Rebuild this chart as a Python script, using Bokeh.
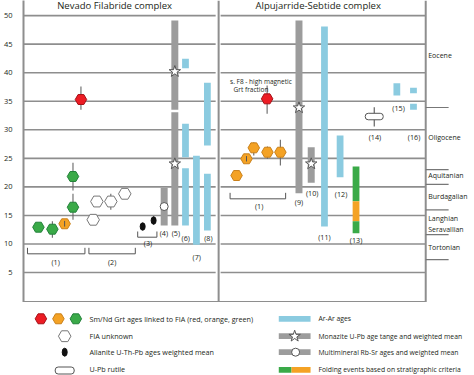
from bokeh.plotting import figure
from bokeh.models import Range1d, FixedTicker, Label
from bokeh.layouts import column
from bokeh.embed import file_html
from bokeh.resources import INLINE
from bokeh.core.properties import value

FONT = "Open Sans"
TXT = "#231f20"
GRID = "#8e8e8e"
GREEN, ORANGE, RED = "#3aaa48", "#f4a224", "#ec1c24"
BLUE, GREY = "#8bcbe0", "#9c9c9c"

# ---------------- data ----------------
# Sm/Nd garnet ages
grt_x = [36, 50, 62.3, 70.7, 70.7, 78.7, 235, 245, 252.3, 266, 279, 265.7]
grt_age = [12.94, 12.59, 13.54, 16.44, 21.82, 35.3, 21.99, 24.92, 26.84, 26.07, 26.07, 35.42]
grt_lo = [12.94, 11.08, 13.05, 14.24, 19.37, 33.5, 21.99, 24.45, 25.49, 24.92, 23.74, 32.8]
grt_hi = [12.94, 13.99, 14.05, 18.79, 24.22, 37.58, 21.99, 25.4, 27.82, 27.07, 28.24, 37.75]
grt_col = ["green", "green", "orange", "green", "green", "red",
           "orange", "orange", "orange", "orange", "orange", "red"]
grt_inner = [False, False, True, False, False, False, False, True, False, False, False, False]

# FIA unknown garnets
fia_x = [91, 94.7, 108.7, 122.7]
fia_age = [14.24, 17.44, 17.44, 18.79]
fia_lo = [14.24, 17.44, 15.99, 18.79]
fia_hi = [14.24, 17.44, 18.79, 18.79]

# Allanite U-Th-Pb
aln_x = [140.7, 151.7]
aln_age = [13.06, 14.11]
aln_lo = [13.06, 13.4]
aln_hi = [13.06, 14.8]

# Grey bars (monazite U-Pb / Rb-Sr) ranges
grey_x = [162.3, 173, 173, 297.7, 310]
grey_bot = [13.24, 13.24, 33.5, 18.89, 20.71]
grey_top = [19.84, 33.05, 49.13, 49.13, 26.95]
star_x = [173, 173, 297.7, 310]
star_age = [40.2, 24.04, 33.85, 24.04]
rbsr_x = [162.3]
rbsr_age = [16.56]

# Ar-Ar ages
ar_x = [183.7, 183.7, 183.7, 194.7, 205.7, 205.7, 323.3, 339, 396, 412.7, 412.7]
ar_bot = [40.78, 25.2, 13.24, 9.86, 27.25, 12.36, 13.06, 21.7, 36.0, 36.4, 33.5]
ar_top = [42.43, 31.05, 23.27, 25.44, 38.22, 22.29, 48.08, 29.0, 38.15, 37.35, 34.55]

# Folding events (13)
fold_x = [355, 355, 355]
fold_bot = [17.49, 13.99, 11.89]
fold_top = [23.57, 17.49, 13.99]
fold_col = ["green", "orange", "green"]

# U-Pb rutile (14)
rut_x = [373.3]
rut_age = [32.32]
rut_lo = [30.57]
rut_hi = [33.95]

# sample number labels
num_text = ["(1)", "(2)", "(3)", "(4)", "(5)", "(6)", "(7)", "(8)", "(1)", "(9)", "(10)",
            "(11)", "(12)", "(13)", "(14)", "(15)", "(16)"]
num_x = [53.3, 110, 146, 162, 174, 184, 195, 206.7, 257.7, 297.7, 311, 323.3, 340, 355, 374, 397.7, 413.3]
num_age = [6.81, 6.81, 10.14, 11.84, 11.84, 11.01, 7.81, 11.01, 16.74, 17.32, 18.89,
           11.31, 18.67, 10.73, 28.7, 33.78, 28.7]

# group brackets
br_x0 = [25, 86.7, 135.7, 228.5]
br_x1 = [82.7, 133.3, 155, 284.3]
br_age = [8.28, 8.28, 11.19, 17.91]
br_tick = [1.05, 1.05, 1.0, 1.05]

# time scale
grid_ages = [5, 10, 15, 20, 25, 30, 35, 40, 45, 50]
epoch_bounds = [33.9, 23.03, 20.44, 15.97, 11.63, 7.25]
epoch_names = ["Eocene", "Oligocene", "Aquitanian", "Burdagalian", "Langhian", "Seravallian", "Tortonian"]
epoch_label_age = [43.0, 28.73, 21.99, 18.32, 14.46, 12.54, 9.39]

panel_titles = ["Nevado Filabride complex", "Alpujarride-Sebtide complex"]
panel_title_x = [112.5, 317]

legend_left = ["Sm/Nd Grt ages linked to FIA (red, orange, green)", "FIA unknown",
               "Allanite U-Th-Pb ages weighted mean", "U-Pb rutile"]
legend_right = ["Ar-Ar ages", "Monazite U-Pb age tange and weighted mean",
                "Multimineral Rb-Sr ages and weighted mean",
                "Folding events based on stratigraphic criteria"]

cmap = {"green": GREEN, "orange": ORANGE, "red": RED}
edge = {"green": "#23813a", "orange": "#c9801a", "red": "#a51218"}

# ---------------- main chart ----------------
Y_TOP, Y_BOT = 52.64, -0.245
p = figure(width=474, height=302, output_backend="svg", toolbar_location=None,
           x_range=Range1d(21, 474), y_range=Range1d(Y_BOT, Y_TOP),
           min_border_left=21, min_border_right=0, min_border_top=0, min_border_bottom=0,
           x_axis_location=None)
p.outline_line_color = None
p.xgrid.visible = False
p.ygrid.visible = False
p.background_fill_color = "white"
p.border_fill_color = "white"
ax = p.yaxis[0]
ax.ticker = FixedTicker(ticks=grid_ages)
ax.major_tick_line_color = None
ax.minor_tick_line_color = None
ax.axis_line_color = GRID
ax.axis_line_width = 2
ax.major_label_text_font = FONT
ax.major_label_text_font_size = "7.5px"
ax.major_label_text_color = TXT
ax.major_label_standoff = 5

# grid lines per panel
gx0 = [21] * len(grid_ages) + [219] * len(grid_ages)
gx1 = [214] * len(grid_ages) + [425] * len(grid_ages)
gy = grid_ages + grid_ages
p.segment(x0=gx0, x1=gx1, y0=gy, y1=gy, line_color=GRID, line_width=1.6)
# bottom line
p.segment(x0=[21], x1=[425], y0=[-0.15], y1=[-0.15], line_color=GRID, line_width=2)
# vertical panel borders
p.segment(x0=[217, 425], x1=[217, 425], y0=[-0.15, -0.15], y1=[Y_TOP, Y_TOP], line_color=GRID, line_width=2)
# epoch boundaries
p.segment(x0=[425] * len(epoch_bounds), x1=[448] * len(epoch_bounds), y0=epoch_bounds, y1=epoch_bounds,
          line_color="#777777", line_width=1.2)
p.text(x=[427.5] * len(epoch_names), y=epoch_label_age, text=epoch_names, text_font=value(FONT),
       text_font_size="7px", text_color=TXT, text_baseline="middle", text_align="left")

# panel titles
p.text(x=panel_title_x, y=[51.78, 51.78], text=panel_titles, text_font=value(FONT),
       text_font_size="9.5px", text_color=TXT, text_baseline="middle", text_align="center")
p.add_layout(Label(x=6, y=51.85, text="Ma", text_font=FONT, text_font_size="8px", text_color=TXT,
                   text_align="center", text_baseline="middle"))

# brackets
bxs, bys = [], []
for x0, x1, a, t in zip(br_x0, br_x1, br_age, br_tick):
    bxs.append([x0, x0, x1, x1])
    bys.append([a + t, a, a, a + t])
p.multi_line(xs=bxs, ys=bys, line_color="#555555", line_width=1)

# bars
p.vbar(x=grey_x, bottom=grey_bot, top=grey_top, width=7, fill_color=GREY, line_color=None)
p.vbar(x=ar_x, bottom=ar_bot, top=ar_top, width=6.8, fill_color=BLUE, line_color=None)
p.vbar(x=fold_x, bottom=fold_bot, top=fold_top, width=6.8,
       fill_color=[cmap[c] for c in fold_col], line_color=None)

# error bars
p.segment(x0=grt_x, x1=grt_x, y0=grt_lo, y1=grt_hi, line_color="#666666", line_width=1.1)
p.segment(x0=fia_x, x1=fia_x, y0=fia_lo, y1=fia_hi, line_color="#666666", line_width=1.1)
p.segment(x0=aln_x, x1=aln_x, y0=aln_lo, y1=aln_hi, line_color="#444444", line_width=1.1)
p.segment(x0=rut_x, x1=rut_x, y0=rut_lo, y1=rut_hi, line_color="#555555", line_width=1.1)

# markers
p.scatter(x=grt_x, y=grt_age, marker="hex", size=11.5,
          fill_color=[cmap[c] for c in grt_col], line_color=[edge[c] for c in grt_col], line_width=1)
ix = [i for i, f in enumerate(grt_inner) if f]
p.segment(x0=[grt_x[i] for i in ix], x1=[grt_x[i] for i in ix], y0=[grt_lo[i] for i in ix],
          y1=[grt_hi[i] for i in ix], line_color="#555555", line_width=1)
p.scatter(x=fia_x, y=fia_age, marker="hex", size=12.5, fill_color="white", line_color="#777777", line_width=1)
p.ellipse(x=aln_x, y=aln_age, width=5, height=7.5, width_units="screen", height_units="screen",
          fill_color="#111111", line_color="#111111")
p.scatter(x=star_x, y=star_age, marker="star", size=12, fill_color="white", line_color="#555555", line_width=1)
p.scatter(x=rbsr_x, y=rbsr_age, marker="circle", size=8, fill_color="white", line_color="#555555", line_width=1)
p.rect(x=rut_x, y=rut_age, width=18, height=6.5, width_units="screen", height_units="screen",
       border_radius=3, fill_color="white", line_color="#555555", line_width=1)

# numbers
p.text(x=num_x, y=num_age, text=num_text, text_font=value(FONT), text_font_size="7.2px",
       text_color=TXT, text_baseline="middle", text_align="center")
# annotation
p.text(x=[228.5, 232], y=[38.45, 37.0], text=["s. F8 - high magnetic", "Grt fraction"],
       text_font=value(FONT), text_font_size="6.5px", text_color=TXT, text_baseline="middle",
       text_align="left")

# ---------------- legend ----------------
lg = figure(width=474, height=73, output_backend="svg", toolbar_location=None,
            x_range=Range1d(0, 474), y_range=Range1d(375, 302),
            min_border=0, x_axis_location=None, y_axis_location=None)
lg.outline_line_color = None
lg.xgrid.visible = False
lg.ygrid.visible = False
rows = [318.3, 335.7, 351.7, 369.3]
lg.scatter(x=[18.3, 36.7, 55], y=[rows[0]] * 3, marker="hex", size=11.5,
           fill_color=[RED, ORANGE, GREEN], line_color=[edge["red"], edge["orange"], edge["green"]])
lg.scatter(x=[43.3], y=[rows[1]], marker="hex", size=12.5, fill_color="white", line_color="#777777")
lg.ellipse(x=[43.3], y=[rows[2]], width=5, height=8, width_units="screen", height_units="screen",
           fill_color="#111111", line_color="#111111")
lg.rect(x=[43.3], y=[rows[3] + 0.7], width=19, height=7, width_units="screen", height_units="screen",
        border_radius=3, fill_color="white", line_color="#555555")
lg.text(x=[69.3] * 4, y=[rows[0], rows[1], rows[2], rows[3] - 1.3], text=legend_left, text_font=value(FONT),
        text_font_size="7.2px", text_color=TXT, text_baseline="middle", text_align="left")
lg.hbar(y=rows[:3], left=[268.3] * 3, right=[301.7] * 3, height=5.8,
        fill_color=[BLUE, GREY, GREY], line_color=None)
lg.hbar(y=[rows[3], rows[3]], left=[268.3, 281.7], right=[281.7, 301.7], height=5.8,
        fill_color=[GREEN, ORANGE], line_color=None)
lg.scatter(x=[285], y=[rows[1]], marker="star", size=12, fill_color="white", line_color="#555555")
lg.scatter(x=[286], y=[rows[2]], marker="circle", size=8, fill_color="white", line_color="#555555")
lg.text(x=[310] * 4, y=rows, text=legend_right, text_font=value(FONT),
        text_font_size="6.8px", text_color=TXT, text_baseline="middle", text_align="left")

layout = column(p, lg, spacing=0)
open("out.html", "w").write(file_html(layout, INLINE))
